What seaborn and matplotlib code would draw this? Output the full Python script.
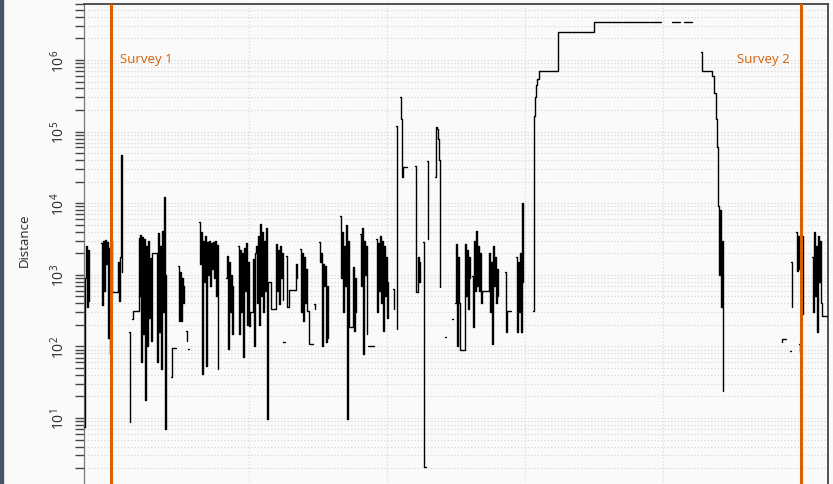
import numpy as np
import pandas as pd
import matplotlib
matplotlib.use('Agg')
import matplotlib.pyplot as plt
from matplotlib.ticker import (LogLocator, LogFormatterSciNotation, MultipleLocator,
                               NullFormatter, FuncFormatter)
from matplotlib.patches import Rectangle
import seaborn as sns

# time since survey 1 (one grid step = 138), one sub-list per unbroken piece of the trace
t_segs = [
    [-27, -26.5, -25, -24, -23, -22],
    [-10, -9, -8, -7, -6, -5, -4, -3, -2, -1, 0, 1, 7, 8, 9, 10, 11],
    [18, 18.5],
    [21, 22, 28, 28.5, 29, 30, 31, 32, 33, 34, 35, 36, 37, 38, 39, 40, 41, 46, 47, 48, 49, 50, 51, 52, 53, 54, 55],
    [60, 60.5, 65],
    [67, 68, 69, 70, 71, 72, 73],
    [75, 75.5],
    [77, 78],
    [88, 89, 90, 91, 92, 93, 94, 95, 96, 97, 98, 99, 100, 101, 102, 103, 104, 105, 106, 107],
    [115, 116, 117, 118, 119, 120, 121, 122],
    [127, 128, 129, 130, 131, 132, 133, 134, 135, 136, 137, 138, 139, 142, 143, 144,
     145, 146, 147, 148, 149, 150, 151, 152, 153, 154, 155, 156, 157, 160, 165,
     166, 167, 168, 169, 170, 171, 172],
    [172, 174],
    [175, 176, 178, 184, 185, 186],
    [189, 190, 191, 192, 193, 194, 195, 196, 198, 202],
    [203, 204],
    [208, 209, 210, 211, 212, 213, 214, 215, 216, 217],
    [229, 230, 231, 232, 233, 234, 235, 236, 237, 238, 242, 243, 244, 245],
    [249, 250, 251, 252, 253, 254, 255, 256],
    [257, 263],
    [265, 266, 267, 268, 269, 270, 271, 272, 273, 274, 275, 276, 277],
    [282, 283],
    [285, 285.5],
    [289, 290, 291, 292, 296],
    [304, 305, 307, 308, 309],
    [312, 312.5, 315],
    [316, 317],
    [324, 325, 326, 327, 328, 329],
    [334, 335],
    [341, 342],
    [344, 345, 346, 347, 348, 349, 354, 355, 356, 357, 358, 359],
    [361, 362, 363, 364, 365, 366, 367, 368, 369, 370, 371, 378, 379, 380, 381, 382, 383, 384, 385, 386, 387],
    [394, 395, 396, 400],
    [405, 406, 407, 408, 409, 410, 411, 412],
    [422, 422.5, 423, 424, 425, 426, 428, 447, 483, 511],
    [512, 538],
    [539, 550],
    [561, 569],
    [573, 581],
    [590, 590.5, 601, 603, 605, 606, 607, 608, 609, 610, 611, 612],
    [671, 671, 675],
    [678.5, 679.5],
    [680, 681],
    [685, 686, 687, 688],
    [688, 688.5],
    [691, 692],
    [701, 702, 703, 704, 705, 706, 707, 708, 709, 710, 711, 717],
]

# distance values matching t_segs
d_segs = [
    [7.5, 900, 2500, 360, 2200, 430],
    [2800, 380, 3000, 600, 3100, 1400, 2900, 130, 2400, 78, 3000, 575, 1500, 430, 1800, 47000, 1100],
    [160, 8.8],
    [240, 312, 3300, 500, 3600, 60, 3400, 150, 3200, 18, 2500, 100, 3000, 250, 1700, 119, 2000, 60, 3800, 160, 2500, 48, 4100, 300, 12200, 7, 1000],
    [37, 95, 95],
    [1330, 230, 1100, 226, 900, 400, 700],
    [164, 119],
    [92, 92],
    [5460, 1400, 4000, 41, 3000, 800, 3500, 53, 2900, 1000, 3000, 700, 2800, 1200, 2900, 900, 3000, 500, 2600, 48],
    [900, 1830, 92, 1500, 300, 1000, 150, 700],
    [2500, 150, 2200, 300, 2000, 71, 2400, 600, 2800, 200, 1500, 193, 302, 1660, 101, 2000,
     2500, 400, 3500, 200, 5120, 500, 4000, 300, 3000, 600, 4500, 9.7, 800, 333, 2690,
     600, 2200, 391, 2500, 900, 2000, 450],
    [115, 115],
    [1830, 355, 614, 614, 1400, 900],
    [2300, 300, 2000, 226, 1800, 400, 1200, 312, 108, 108],
    [391, 333],
    [2870, 1500, 2000, 101, 1400, 700, 1330, 115, 700, 130],
    [6620, 900, 4000, 300, 2500, 700, 5000, 9.7, 3000, 187, 1290, 164, 900, 300],
    [3715, 700, 4500, 78, 3000, 1000, 2500, 150],
    [101, 101],
    [3160, 300, 2800, 600, 3500, 400, 3000, 164, 2500, 500, 1800, 250, 800],
    [634, 333],
    [120000, 175],
    [300000, 150000, 23000, 32000, 32000],
    [33000, 575, 1800, 800, 1500],
    [2870, 2.07, 2.07],
    [39000, 3160],
    [23000, 116000, 110000, 80000, 40000, 676],
    [135, 135],
    [241, 241],
    [400, 2690, 100, 1800, 400, 90, 2690, 500, 2200, 333, 1800, 900],
    [962, 187, 3000, 600, 4100, 700, 2500, 594, 2000, 400, 594, 2000, 300, 1500, 108, 2500, 700, 1800, 400, 1200, 500],
    [1100, 159, 312, 312],
    [1800, 160, 1500, 300, 2000, 159, 10000, 800],
    [312, 1300, 165000, 300000, 450000, 550000, 700000, 2460000, 3400000, 3400000],
    [3400000, 3400000],
    [3400000, 3400000],
    [3400000, 3400000],
    [3400000, 3400000],
    [1290000, 700000, 600000, 350000, 150000, 60000, 9000, 1000, 8000, 355, 3000, 24],
    [115, 127, 127],
    [87, 87],
    [1500, 355],
    [3960, 1130, 3500, 1200],
    [108, 84],
    [3480, 284],
    [1800, 300, 3960, 500, 2500, 160, 3500, 800, 3000, 400, 266, 266],
]

survey_times = [0, 690]
survey_labels = ['Survey 1', 'Survey 2']

# long table, one unit per piece so gaps stay open
rows = []
for i, (ts, ds) in enumerate(zip(t_segs, d_segs)):
    assert len(ts) == len(ds), i
    for t, d in zip(ts, ds):
        rows.append((i, t, d))
df = pd.DataFrame(rows, columns=['seg', 't', 'dist'])

sns.set_theme(style='white')
plt.rcParams['font.family'] = ['Open Sans', 'DejaVu Sans']
plt.rcParams['mathtext.fontset'] = 'dejavusans'

bg = '#fafafa'
fig = plt.figure(figsize=(8.33, 4.85), dpi=100, facecolor=bg)
# axes runs past the bottom edge, like the cropped original
ax = fig.add_axes([84 / 833, 1 - 500 / 485, 744 / 833, 495 / 485])
ax.set_facecolor(bg)
ax.set_yscale('log')

sns.lineplot(data=df, x='t', y='dist', units='seg', estimator=None, sort=False,
             color='black', lw=1.0, drawstyle='steps-post', ax=ax, legend=False, zorder=3)

orange = '#d95f02'
for t in survey_times:
    ax.axvline(t, color=orange, lw=2.2, zorder=4)
ax.text(survey_times[0] + 9, 1.05e6, survey_labels[0], color=orange, fontsize=9.5,
        ha='left', va='center')
ax.text(survey_times[1] - 11, 1.05e6, survey_labels[1], color=orange, fontsize=9.5,
        ha='right', va='center')

ax.set_xlim(-27, 717)
ax.set_ylim(0.74, 6.05e6)

sci = LogFormatterSciNotation()


def ylab(v, pos):
    # 10^0 sits below the visible part
    if v < 5:
        return ''
    return sci(v, pos)


ax.xaxis.set_major_locator(MultipleLocator(138))
ax.yaxis.set_major_locator(LogLocator(base=10, numticks=20))
ax.yaxis.set_minor_locator(LogLocator(base=10, subs=np.arange(2, 10), numticks=20))
ax.yaxis.set_major_formatter(FuncFormatter(ylab))
ax.yaxis.set_minor_formatter(NullFormatter())

ax.tick_params(axis='x', bottom=False, labelbottom=False)
ax.tick_params(axis='y', which='both', left=True, direction='out', length=6.5, width=1,
               color='#444444', labelsize=10, labelrotation=90, pad=5)
for lab in ax.get_yticklabels():
    lab.set_verticalalignment('center')

grid_kw = dict(color='#d4d4d4', linestyle=(0, (1, 2)), lw=0.8)
ax.grid(which='both', axis='y', **grid_kw)
ax.grid(which='major', axis='x', **grid_kw)

for s in ax.spines.values():
    s.set_color('#444444')
    s.set_linewidth(1.3)
ax.spines['left'].set_color('#777777')
ax.spines['left'].set_linewidth(0.9)

ax.set_xlabel('')
ax.set_ylabel('Distance', fontsize=9.5)
ax.yaxis.set_label_coords(-0.071, 0.525)

fig.patches.append(Rectangle((0, 0), 3 / 833, 1, transform=fig.transFigure,
                             color='#4a5568', zorder=10))

fig.savefig('out.png', dpi=100, facecolor=bg)
